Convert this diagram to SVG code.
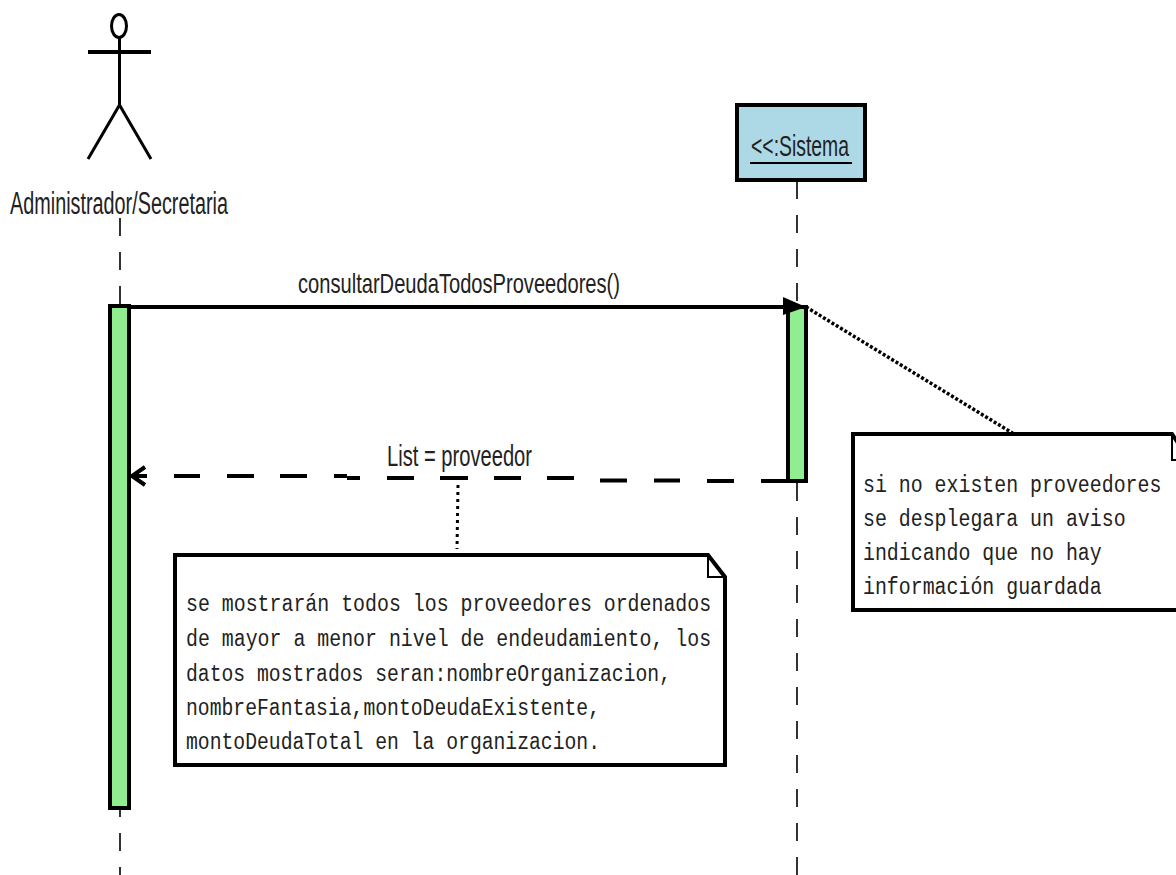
<svg xmlns="http://www.w3.org/2000/svg" width="1176" height="875" viewBox="0 0 1176 875">
<style>
.ln{fill:none;stroke:#000;stroke-width:4}
.body{fill:none;stroke:#000;stroke-width:3}
.th{fill:none;stroke:#000;stroke-width:2}
.life{fill:none;stroke:#000;stroke-width:1.6;stroke-dasharray:18 16}
.act{fill:#90ee90;stroke:#000;stroke-width:4}
.note{fill:#fff;stroke:#000;stroke-width:4}
.sans{font-family:"Liberation Sans",Arial,sans-serif;fill:#222;font-size:29px}
.mono{font-family:"Liberation Mono","Courier New",monospace;fill:#222;font-size:19.900px}
</style>
<rect width="1176" height="875" fill="#fff"/>
<g id="lifelines">
<path class="life" d="M120 218V305"/>
<path class="life" d="M120 799V875"/>
<path class="life" d="M797 181V305"/>
<path class="life" d="M797 483V875"/>
</g>
<g id="actor">
<ellipse class="body" cx="119" cy="26" rx="7.500" ry="11.500"/>
<path class="body" d="M119.500 38V105M88 159L119.500 105L151 159"/>
<path class="ln" d="M88 52H151"/>
<text class="sans" x="10" y="214" textLength="218" lengthAdjust="spacingAndGlyphs" style="font-size:31px">Administrador/Secretaria</text>
</g>
<g id="sistema">
<rect x="737" y="105" width="128" height="75" fill="#add8e6" stroke="#000" stroke-width="4"/>
<text class="sans" x="751" y="156" textLength="98" lengthAdjust="spacingAndGlyphs" style="font-size:30px">&lt;&lt;:Sistema</text>
<path d="M750 163H852" fill="none" stroke="#000" stroke-width="2"/>
</g>
<g id="activation-admin"><rect class="act" x="110" y="306" width="19" height="502"/></g>
<g id="activation-sistema"><rect class="act" x="788" y="307" width="18" height="174"/></g>
<g id="connectors">
<path class="ln" d="M129 307H790"/>
<path d="M783 297L806 307L783 315Z" fill="#000"/>
<text class="sans" x="298" y="293" textLength="322" lengthAdjust="spacingAndGlyphs" style="font-size:28px">consultarDeudaTodosProveedores()</text>
<path class="ln" d="M145 467L132 476L145 485M132 476H147"/>
<path class="ln" d="M174 476H200M227 476H254M280 476H307M334 476H347M347 478H360M387 478H414M440 478H468M494 478H521M547 478H574M600 480.500H627M654 480.500H680M707 481H734M761 481H806"/>
<text class="sans" x="387" y="466" textLength="145" lengthAdjust="spacingAndGlyphs">List = proveedor</text>
<path d="M458 485L457 549" fill="none" stroke="#000" stroke-width="3" stroke-dasharray="3 4"/>
<path d="M806 307L1014 434" fill="none" stroke="#000" stroke-width="3.500" stroke-dasharray="3 2"/>
</g>
<g id="note-left">
<path class="note" d="M175 555H708L725 577V765H175Z"/>
<path class="th" d="M708 555V577H725"/>
<text class="mono" transform="translate(186 611) scale(1 1.200)">se mostrarán todos los proveedores ordenados</text>
<text class="mono" transform="translate(186 646) scale(1 1.200)">de mayor a menor nivel de endeudamiento, los</text>
<text class="mono" transform="translate(186 681) scale(1 1.200)" textLength="485" lengthAdjust="spacingAndGlyphs">datos mostrados seran:nombreOrganizacion,</text>
<text class="mono" transform="translate(186 715) scale(1 1.200)" textLength="414" lengthAdjust="spacingAndGlyphs">nombreFantasia,montoDeudaExistente,</text>
<text class="mono" transform="translate(186 749) scale(1 1.200)" textLength="414" lengthAdjust="spacingAndGlyphs">montoDeudaTotal en la organizacion.</text>
</g>
<g id="note-right">
<path class="note" d="M853 610V434H1172L1190 461V610Z"/>
<path class="th" d="M1172 434V460H1178"/>
<text class="mono" transform="translate(863 492) scale(1 1.200)">si no existen proveedores</text>
<text class="mono" transform="translate(863 526) scale(1 1.200)">se desplegara un aviso</text>
<text class="mono" transform="translate(863 560) scale(1 1.200)">indicando que no hay</text>
<text class="mono" transform="translate(863 594) scale(1 1.200)">información guardada</text>
</g>
</svg>
